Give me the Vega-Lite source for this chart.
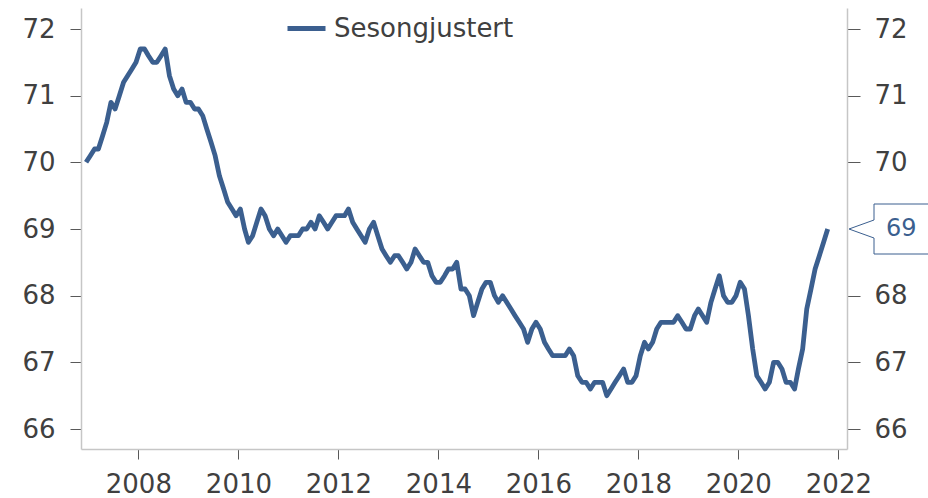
{
"$schema": "https://vega.github.io/schema/vega-lite/v6.json",
"width": 766, "height": 441,
"autosize": "none",
"padding": {"left": 81, "top": 8, "right": 81, "bottom": 49},
"background": "white",
"config": {"view": {"stroke": null}, "font": "DejaVu Sans"},
"data": {"values": [
{"date":"2006-12-15","value":70.0},{"date":"2007-01-15","value":70.1},{"date":"2007-02-15","value":70.2},{"date":"2007-03-15","value":70.2},{"date":"2007-04-15","value":70.4},{"date":"2007-05-15","value":70.6},{"date":"2007-06-15","value":70.9},{"date":"2007-07-15","value":70.8},{"date":"2007-08-15","value":71.0},{"date":"2007-09-15","value":71.2},{"date":"2007-10-15","value":71.3},{"date":"2007-11-15","value":71.4},{"date":"2007-12-15","value":71.5},
{"date":"2008-01-15","value":71.7},{"date":"2008-02-15","value":71.7},{"date":"2008-03-15","value":71.6},{"date":"2008-04-15","value":71.5},{"date":"2008-05-15","value":71.5},{"date":"2008-06-15","value":71.6},{"date":"2008-07-15","value":71.7},{"date":"2008-08-15","value":71.3},{"date":"2008-09-15","value":71.1},{"date":"2008-10-15","value":71.0},{"date":"2008-11-15","value":71.1},{"date":"2008-12-15","value":70.9},
{"date":"2009-01-15","value":70.9},{"date":"2009-02-15","value":70.8},{"date":"2009-03-15","value":70.8},{"date":"2009-04-15","value":70.7},{"date":"2009-05-15","value":70.5},{"date":"2009-06-15","value":70.3},{"date":"2009-07-15","value":70.1},{"date":"2009-08-15","value":69.8},{"date":"2009-09-15","value":69.6},{"date":"2009-10-15","value":69.4},{"date":"2009-11-15","value":69.3},{"date":"2009-12-15","value":69.2},
{"date":"2010-01-15","value":69.3},{"date":"2010-02-15","value":69.0},{"date":"2010-03-15","value":68.8},{"date":"2010-04-15","value":68.9},{"date":"2010-05-15","value":69.1},{"date":"2010-06-15","value":69.3},{"date":"2010-07-15","value":69.2},{"date":"2010-08-15","value":69.0},{"date":"2010-09-15","value":68.9},{"date":"2010-10-15","value":69.0},{"date":"2010-11-15","value":68.9},{"date":"2010-12-15","value":68.8},
{"date":"2011-01-15","value":68.9},{"date":"2011-02-15","value":68.9},{"date":"2011-03-15","value":68.9},{"date":"2011-04-15","value":69.0},{"date":"2011-05-15","value":69.0},{"date":"2011-06-15","value":69.1},{"date":"2011-07-15","value":69.0},{"date":"2011-08-15","value":69.2},{"date":"2011-09-15","value":69.1},{"date":"2011-10-15","value":69.0},{"date":"2011-11-15","value":69.1},{"date":"2011-12-15","value":69.2},
{"date":"2012-01-15","value":69.2},{"date":"2012-02-15","value":69.2},{"date":"2012-03-15","value":69.3},{"date":"2012-04-15","value":69.1},{"date":"2012-05-15","value":69.0},{"date":"2012-06-15","value":68.9},{"date":"2012-07-15","value":68.8},{"date":"2012-08-15","value":69.0},{"date":"2012-09-15","value":69.1},{"date":"2012-10-15","value":68.9},{"date":"2012-11-15","value":68.7},{"date":"2012-12-15","value":68.6},
{"date":"2013-01-15","value":68.5},{"date":"2013-02-15","value":68.6},{"date":"2013-03-15","value":68.6},{"date":"2013-04-15","value":68.5},{"date":"2013-05-15","value":68.4},{"date":"2013-06-15","value":68.5},{"date":"2013-07-15","value":68.7},{"date":"2013-08-15","value":68.6},{"date":"2013-09-15","value":68.5},{"date":"2013-10-15","value":68.5},{"date":"2013-11-15","value":68.3},{"date":"2013-12-15","value":68.2},
{"date":"2014-01-15","value":68.2},{"date":"2014-02-15","value":68.3},{"date":"2014-03-15","value":68.4},{"date":"2014-04-15","value":68.4},{"date":"2014-05-15","value":68.5},{"date":"2014-06-15","value":68.1},{"date":"2014-07-15","value":68.1},{"date":"2014-08-15","value":68.0},{"date":"2014-09-15","value":67.7},{"date":"2014-10-15","value":67.9},{"date":"2014-11-15","value":68.1},{"date":"2014-12-15","value":68.2},
{"date":"2015-01-15","value":68.2},{"date":"2015-02-15","value":68.0},{"date":"2015-03-15","value":67.9},{"date":"2015-04-15","value":68.0},{"date":"2015-05-15","value":67.9},{"date":"2015-06-15","value":67.8},{"date":"2015-07-15","value":67.7},{"date":"2015-08-15","value":67.6},{"date":"2015-09-15","value":67.5},{"date":"2015-10-15","value":67.3},{"date":"2015-11-15","value":67.5},{"date":"2015-12-15","value":67.6},
{"date":"2016-01-15","value":67.5},{"date":"2016-02-15","value":67.3},{"date":"2016-03-15","value":67.2},{"date":"2016-04-15","value":67.1},{"date":"2016-05-15","value":67.1},{"date":"2016-06-15","value":67.1},{"date":"2016-07-15","value":67.1},{"date":"2016-08-15","value":67.2},{"date":"2016-09-15","value":67.1},{"date":"2016-10-15","value":66.8},{"date":"2016-11-15","value":66.7},{"date":"2016-12-15","value":66.7},
{"date":"2017-01-15","value":66.6},{"date":"2017-02-15","value":66.7},{"date":"2017-03-15","value":66.7},{"date":"2017-04-15","value":66.7},{"date":"2017-05-15","value":66.5},{"date":"2017-06-15","value":66.6},{"date":"2017-07-15","value":66.7},{"date":"2017-08-15","value":66.8},{"date":"2017-09-15","value":66.9},{"date":"2017-10-15","value":66.7},{"date":"2017-11-15","value":66.7},{"date":"2017-12-15","value":66.8},
{"date":"2018-01-15","value":67.1},{"date":"2018-02-15","value":67.3},{"date":"2018-03-15","value":67.2},{"date":"2018-04-15","value":67.3},{"date":"2018-05-15","value":67.5},{"date":"2018-06-15","value":67.6},{"date":"2018-07-15","value":67.6},{"date":"2018-08-15","value":67.6},{"date":"2018-09-15","value":67.6},{"date":"2018-10-15","value":67.7},{"date":"2018-11-15","value":67.6},{"date":"2018-12-15","value":67.5},
{"date":"2019-01-15","value":67.5},{"date":"2019-02-15","value":67.7},{"date":"2019-03-15","value":67.8},{"date":"2019-04-15","value":67.7},{"date":"2019-05-15","value":67.6},{"date":"2019-06-15","value":67.9},{"date":"2019-07-15","value":68.1},{"date":"2019-08-15","value":68.3},{"date":"2019-09-15","value":68.0},{"date":"2019-10-15","value":67.9},{"date":"2019-11-15","value":67.9},{"date":"2019-12-15","value":68.0},
{"date":"2020-01-15","value":68.2},{"date":"2020-02-15","value":68.1},{"date":"2020-03-15","value":67.7},{"date":"2020-04-15","value":67.2},{"date":"2020-05-15","value":66.8},{"date":"2020-06-15","value":66.7},{"date":"2020-07-15","value":66.6},{"date":"2020-08-15","value":66.7},{"date":"2020-09-15","value":67.0},{"date":"2020-10-15","value":67.0},{"date":"2020-11-15","value":66.9},{"date":"2020-12-15","value":66.7},
{"date":"2021-01-15","value":66.7},{"date":"2021-02-15","value":66.6},{"date":"2021-03-15","value":66.9},{"date":"2021-04-15","value":67.2},{"date":"2021-05-15","value":67.8},{"date":"2021-06-15","value":68.1},{"date":"2021-07-15","value":68.4},{"date":"2021-08-15","value":68.6},{"date":"2021-09-15","value":68.8},{"date":"2021-10-15","value":69.0}
]},
"layer": [
{
"mark": {"type": "line", "strokeWidth": 4.8, "strokeCap": "butt", "strokeJoin": "round"},
"encoding": {
"x": {"field": "date", "type": "temporal",
"scale": {"domain": [{"year": 2006, "month": 11, "date": 8}, {"year": 2022, "month": 3, "date": 5}]},
"axis": {"title": null, "grid": false, "values": [{"year": 2008}, {"year": 2010}, {"year": 2012}, {"year": 2014}, {"year": 2016}, {"year": 2018}, {"year": 2020}, {"year": 2022}], "format": "%Y", "tickSize": 10, "tickColor": "#595959", "domainColor": "#C6C6C6", "domainWidth": 1.5, "labelFontSize": 26, "labelColor": "#404040", "labelFont": "DejaVu Sans", "labelPadding": 12, "labelFlush": false, "labelOverlap": false}},
"y": {"field": "value", "type": "quantitative",
"scale": {"domain": [65.7, 72.315], "nice": false, "zero": false},
"axis": {"orient": "left", "title": null, "grid": false, "values": [66, 67, 68, 69, 70, 71, 72], "tickSize": 11, "tickColor": "#595959", "domainColor": "#C6C6C6", "domainWidth": 1.5, "labelFontSize": 26, "labelColor": "#404040", "labelFont": "DejaVu Sans", "labelPadding": 15}},
"color": {"datum": "Sesongjustert", "type": "nominal", "scale": {"range": ["#3B5F8F"]},
"legend": {"orient": "none", "legendX": 204, "legendY": -1, "title": null, "symbolType": "stroke", "symbolSize": 1444, "symbolStrokeWidth": 5, "labelFontSize": 26, "labelColor": "#404040", "labelFont": "DejaVu Sans", "labelOffset": 6, "padding": 0, "labelLimit": 0}}
}
},
{
"transform": [{"filter": "utcyear(datum.date) == 2021 && utcmonth(datum.date) == 9"}],
"mark": {"type": "point", "shape": "M0.02,0L0.27,-0.09L0.27,-0.25L1,-0.25L1,0.25L0.27,0.25L0.27,0.09Z", "size": 40000, "filled": true, "fill": "white", "stroke": "#3B5F8F", "strokeWidth": 1, "opacity": 1},
"encoding": {
"x": {"datum": {"year": 2022, "month": 3, "date": 5}, "type": "temporal"},
"y": {"field": "value", "type": "quantitative",
"scale": {"domain": [65.7, 72.315], "nice": false, "zero": false},
"axis": {"orient": "right", "title": null, "grid": false, "values": [66, 67, 68, 70, 71, 72], "tickSize": 13, "tickColor": "#595959", "domainColor": "#C6C6C6", "domainWidth": 1.5, "labelFontSize": 26, "labelColor": "#404040", "labelFont": "DejaVu Sans", "labelPadding": 14}}
}
},
{
"transform": [{"filter": "utcyear(datum.date) == 2021 && utcmonth(datum.date) == 9"}],
"mark": {"type": "text", "align": "left", "baseline": "middle", "dx": 39, "fontSize": 24, "color": "#3B5F8F", "font": "DejaVu Sans"},
"encoding": {
"x": {"datum": {"year": 2022, "month": 3, "date": 5}, "type": "temporal"},
"y": {"field": "value", "type": "quantitative", "scale": {"domain": [65.7, 72.315], "nice": false, "zero": false}, "axis": null},
"text": {"field": "value", "type": "quantitative", "format": ".0f"}
}
}
],
"resolve": {"scale": {"y": "independent"}}
}
